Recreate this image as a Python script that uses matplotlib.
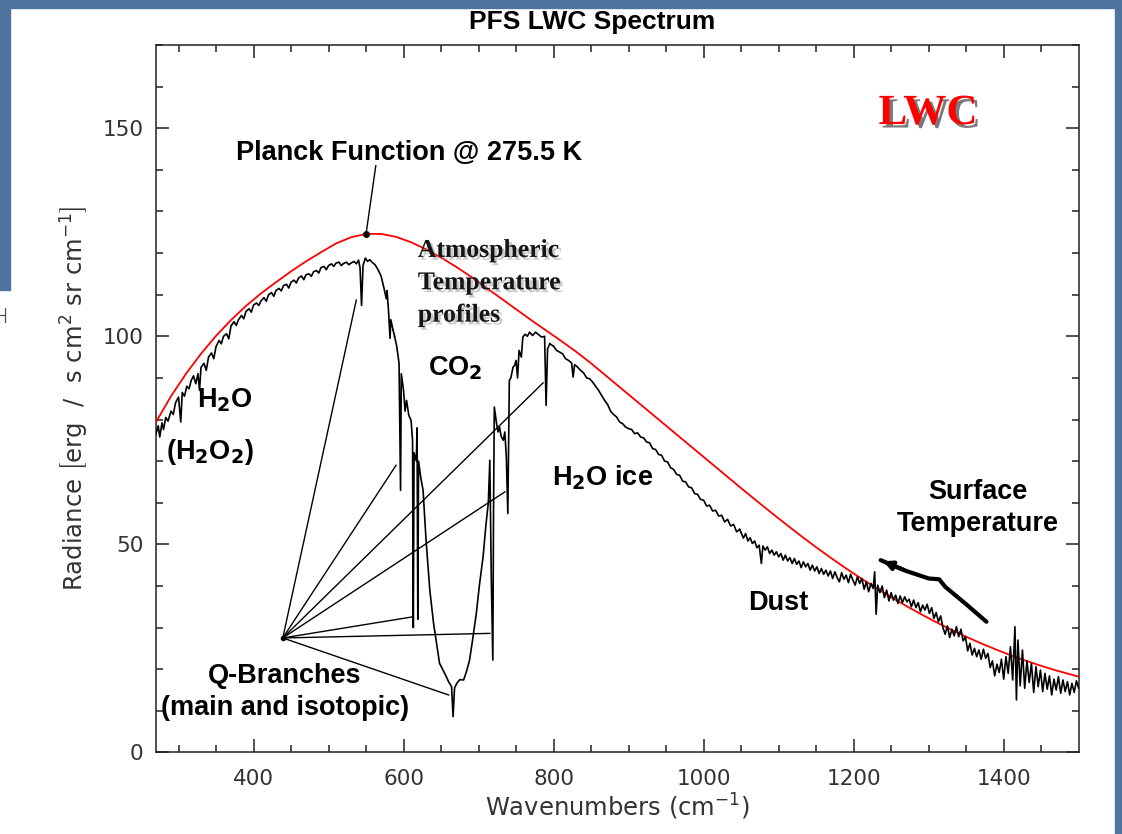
import matplotlib
matplotlib.use('Agg')
import matplotlib.pyplot as plt
import matplotlib.patheffects as pe
from matplotlib.patches import Rectangle
from matplotlib.lines import Line2D

# Planck curve @ 275.5 K
planck_wn = [270, 290, 310, 330, 350, 370, 390, 410, 430, 450, 470, 490, 510, 530, 550,
             570, 590, 610, 630, 650, 670, 690, 710, 730, 750, 770, 790, 810, 830, 850,
             870, 890, 910, 930, 950, 970, 990, 1010, 1030, 1050, 1070, 1090, 1110, 1130,
             1150, 1170, 1190, 1210, 1230, 1250, 1270, 1290, 1310, 1330, 1350, 1370, 1390,
             1410, 1430, 1450, 1470, 1490, 1500]
planck_rad = [79.4, 85.6, 91.0, 95.8, 100.1, 103.9, 107.3, 110.3, 113.0, 115.6, 118.0, 120.2,
              122.3, 123.8, 124.6, 124.6, 123.9, 122.6, 120.9, 118.9, 116.7, 114.3, 111.7,
              109.1, 106.5, 103.9, 101.4, 98.9, 96.3, 93.5, 90.5, 87.5, 84.5, 81.5, 78.5,
              75.5, 72.5, 69.5, 66.5, 63.5, 60.55, 57.65, 54.8, 52.0, 49.3, 46.7, 44.2, 41.8,
              39.5, 37.3, 35.2, 33.2, 31.3, 29.5, 27.8, 26.2, 24.7, 23.3, 22.0, 20.8, 19.7,
              18.7, 18.2]

# measured spectrum, split by band
h2o_band = [(270, 76.5), (273, 78.5), (275, 75.8), (278, 79.2), (280, 77.6), (283, 80.5),
            (286, 79.6), (290, 82.0), (293, 81.2), (296, 84.0), (300, 85.4), (303, 79.4),
            (305, 86.5), (308, 85.6), (311, 88.0), (314, 87.4), (317, 89.4), (320, 90.5),
            (323, 88.6), (326, 91.0), (328, 87.0), (330, 92.5), (334, 93.5), (337, 91.8),
            (340, 95.0), (344, 96.0), (347, 94.6), (350, 97.5), (354, 99.0), (357, 98.2),
            (360, 100.0), (364, 100.6), (367, 99.4), (370, 102.5), (374, 103.5), (377, 102.6),
            (380, 104.0), (384, 105.0), (387, 104.2), (390, 106.0), (394, 106.6), (397, 105.8),
            (400, 107.5), (404, 108.0), (407, 107.4), (410, 108.5), (414, 109.3), (417, 108.4),
            (420, 110.0), (424, 110.5), (427, 109.6), (430, 111.0), (434, 111.5), (437, 110.9),
            (440, 112.2), (444, 112.5), (447, 111.6), (450, 113.0), (454, 113.5), (457, 112.8),
            (460, 114.0), (464, 114.5), (467, 113.6), (470, 114.8), (474, 115.0), (477, 114.4),
            (480, 115.5), (484, 115.8), (487, 115.2), (490, 116.5), (494, 116.8), (497, 116.0),
            (500, 117.0), (504, 117.4), (507, 116.8), (510, 117.6), (514, 117.8), (517, 117.0),
            (520, 117.5), (524, 117.8), (527, 117.2), (530, 117.6), (534, 118.0), (537, 117.4),
            (540, 118.3), (542, 116.5), (544, 107.4), (546, 117.0), (549, 118.8), (552, 118.0),
            (555, 118.4), (558, 117.8), (562, 117.2), (566, 116.0), (570, 114.5), (574, 111.5),
            (577, 109.0), (578, 111.0), (580, 106.0), (582, 99.5), (583, 104.0), (586, 101.5)]

co2_band = [(588, 100.0), (591, 97.5), (594, 93.5), (596, 63.0), (597, 91.0), (600, 87.0),
            (602, 82.0), (604, 84.6), (607, 81.0), (610, 79.8), (612, 75.0), (613, 30.0),
            (614, 72.0), (617, 70.0), (618, 78.0), (619, 32.0), (620, 70.0), (623, 66.0),
            (626, 63.0), (630, 51.0), (635, 39.0), (640, 31.0), (645, 25.0), (648, 21.4),
            (652, 20.0), (657, 18.2), (660, 17.0), (664, 15.8), (666, 8.6), (668, 15.5),
            (671, 16.6), (675, 17.5), (680, 17.4), (684, 19.5), (688, 22.2), (692, 27.0),
            (697, 33.4), (701, 40.0), (706, 47.0), (710, 55.0), (713, 60.0), (715, 70.2),
            (717, 41.4), (719, 22.2), (720, 60.0), (721, 83.0), (724, 79.0), (726, 77.0),
            (728, 78.2), (730, 76.0), (733, 75.0), (735, 77.0), (737, 71.0), (739, 57.4),
            (741, 89.4), (743, 90.0), (746, 92.6), (748, 93.0), (750, 94.2), (752, 90.0),
            (754, 96.6), (757, 95.0), (759, 99.8), (762, 100.5), (765, 100.0), (768, 101.0),
            (772, 100.2), (776, 101.0), (780, 100.4), (784, 99.8), (788, 100.0), (790, 83.4),
            (792, 97.0), (795, 98.2)]

window = [(800, 97.6), (804, 96.6), (808, 96.2), (812, 95.8), (816, 94.6), (820, 94.2),
          (824, 93.6), (826, 90.2), (828, 93.2), (832, 92.6), (836, 91.8), (840, 91.2),
          (844, 90.0), (848, 89.8), (852, 89.0), (856, 88.0), (860, 87.0), (864, 85.8),
          (868, 84.6), (872, 83.6), (876, 82.0), (880, 81.2), (884, 80.6), (888, 79.4),
          (892, 79.0), (896, 78.2), (900, 77.8), (904, 77.6), (908, 76.6), (912, 76.8),
          (916, 75.8), (920, 75.6), (924, 74.6), (928, 74.4), (932, 73.0), (936, 72.8),
          (940, 71.6), (944, 71.4), (948, 70.0), (952, 69.8), (956, 68.4), (960, 68.0),
          (964, 66.8), (968, 66.6), (972, 65.2), (976, 65.0), (980, 63.8), (984, 63.6),
          (988, 62.2), (992, 62.0), (996, 60.8), (1000, 60.6), (1004, 59.2), (1008, 59.4),
          (1012, 58.0), (1016, 58.2), (1020, 56.8), (1024, 57.0), (1028, 55.4), (1032, 56.0),
          (1036, 54.4), (1040, 54.8), (1044, 53.0), (1048, 53.6)]

surface = [(1050, 52.8), (1053, 51.5), (1056, 52.6), (1059, 50.8), (1062, 51.6), (1065, 50.2),
           (1068, 50.8), (1071, 49.2), (1074, 49.8), (1077, 45.4), (1079, 49.6), (1082, 48.6),
           (1085, 49.4), (1088, 47.8), (1091, 48.6), (1094, 47.4), (1097, 48.2), (1100, 47.0),
           (1103, 47.8), (1106, 46.2), (1109, 47.4), (1112, 46.0), (1115, 46.8), (1118, 45.4),
           (1121, 46.6), (1124, 45.2), (1127, 46.0), (1130, 44.4), (1133, 45.8), (1136, 44.6),
           (1139, 45.4), (1142, 43.8), (1145, 45.0), (1148, 43.6), (1151, 44.6), (1154, 43.0),
           (1157, 44.2), (1160, 42.8), (1163, 43.8), (1166, 42.4), (1169, 43.6), (1172, 41.8),
           (1175, 43.4), (1178, 42.0), (1181, 41.0), (1184, 43.2), (1187, 41.6), (1190, 42.6),
           (1193, 40.8), (1196, 42.8), (1199, 41.4), (1202, 40.2), (1205, 42.2), (1208, 40.6),
           (1211, 41.8), (1214, 39.2), (1217, 41.0), (1220, 38.6), (1223, 40.6), (1226, 39.4),
           (1228, 43.4), (1230, 33.2), (1232, 40.2), (1235, 38.4), (1238, 40.0), (1241, 37.2),
           (1244, 39.0), (1247, 36.4), (1250, 38.4), (1253, 36.6), (1256, 37.8), (1259, 35.8),
           (1262, 37.6), (1265, 36.0), (1268, 37.4), (1271, 36.2), (1274, 36.8), (1277, 35.0),
           (1280, 36.6), (1283, 34.8), (1286, 36.0), (1289, 33.8), (1292, 35.4), (1295, 34.2),
           (1298, 35.6), (1301, 33.4), (1304, 34.8), (1307, 32.2), (1310, 33.6), (1313, 31.4),
           (1316, 32.8), (1319, 30.0), (1322, 28.4), (1325, 30.4), (1328, 27.6), (1331, 29.6),
           (1334, 28.0), (1337, 30.2), (1340, 27.8), (1343, 29.6), (1346, 26.8), (1349, 27.8),
           (1352, 24.4), (1355, 26.2), (1358, 23.4), (1361, 25.0), (1364, 23.0), (1367, 24.6),
           (1370, 22.4), (1373, 24.8), (1376, 22.6), (1379, 23.8), (1382, 20.4), (1385, 22.0),
           (1388, 18.4), (1391, 21.2), (1394, 19.2), (1397, 22.4), (1400, 17.6), (1403, 23.0),
           (1406, 19.0), (1409, 25.4), (1412, 17.4), (1415, 30.2), (1417, 12.6), (1419, 27.0),
           (1422, 16.0), (1425, 24.6), (1428, 15.4), (1431, 22.0), (1434, 16.8), (1437, 21.4),
           (1440, 14.4), (1443, 20.6), (1446, 15.8), (1449, 19.8), (1452, 14.6), (1455, 19.0),
           (1458, 15.2), (1461, 18.4), (1464, 13.8), (1467, 17.6), (1470, 15.0), (1473, 18.2),
           (1476, 14.2), (1479, 17.4), (1482, 14.6), (1485, 17.0), (1488, 13.8), (1491, 16.6),
           (1494, 14.4), (1497, 17.2), (1500, 15.4)]

# Q-branch pointer lines: hub and the features they point at
q_hub = (439, 27.5)
q_targets = [(537, 108.7), (590, 69.0), (786, 88.8), (735, 62.6), (613, 32.6), (715, 28.6),
             (660, 13.8)]

planck_dot = (550, 124.6)
planck_label_end = (563, 141.0)
surface_arrow = [(1377, 31.4), (1350, 35.6), (1322, 39.8), (1314, 41.6), (1300, 41.8),
                 (1270, 43.6), (1236, 46.2)]

sans = ['Liberation Sans', 'DejaVu Sans']
serif = ['Liberation Serif', 'DejaVu Serif']
axfont = ['DejaVu Sans']

fig = plt.figure(figsize=(11.22, 8.34), dpi=100)
fig.patch.set_facecolor('white')
blue = '#4f74a0'
fig.patches.append(Rectangle((0, 1 - 8 / 834), 1, 8 / 834, transform=fig.transFigure,
                             color=blue, zorder=0))
fig.patches.append(Rectangle((0, 1 - 290 / 834), 10 / 1122, 290 / 834, transform=fig.transFigure,
                             color=blue, zorder=0))
fig.patches.append(Rectangle((1 - 7 / 1122, 0), 7 / 1122, 1, transform=fig.transFigure,
                             color=blue, zorder=0))
fig.lines.append(Line2D([5 / 1122, 5 / 1122], [1 - 308 / 834, 1 - 322 / 834],
                        transform=fig.transFigure, color='#444444', lw=0.8))
fig.lines.append(Line2D([0, 5 / 1122], [1 - 315 / 834, 1 - 315 / 834],
                        transform=fig.transFigure, color='#444444', lw=0.8))

ax = fig.add_axes([156 / 1122, 1 - 752.4 / 834, (1078.7 - 156) / 1122, (752.4 - 45) / 834])

ax.plot(planck_wn, planck_rad, color='red', lw=1.3, zorder=3)
for seg in [h2o_band, co2_band, window, surface]:
    wn, rad = zip(*seg)
    ax.plot(wn, rad, color='black', lw=1.2, zorder=4)
# join the segments
ax.plot([h2o_band[-1][0], co2_band[0][0]], [h2o_band[-1][1], co2_band[0][1]], color='black', lw=1.2)
ax.plot([co2_band[-1][0], window[0][0]], [co2_band[-1][1], window[0][1]], color='black', lw=1.2)
ax.plot([window[-1][0], surface[0][0]], [window[-1][1], surface[0][1]], color='black', lw=1.2)

for tx, ty in q_targets:
    ax.plot([q_hub[0], tx], [q_hub[1], ty], color='black', lw=1.0, zorder=5)
ax.plot(*q_hub, 'o', color='black', ms=3, zorder=6)

ax.plot([planck_dot[0], planck_label_end[0]], [planck_dot[1], planck_label_end[1]],
        color='black', lw=1.0, zorder=5)
ax.plot(*planck_dot, 'o', color='black', ms=4, zorder=6)

sx, sy = zip(*surface_arrow)
ax.plot(sx, sy, color='black', lw=3.0, solid_capstyle='round', solid_joinstyle='round', zorder=5)
ax.annotate('', xy=surface_arrow[-1], xytext=surface_arrow[-2],
            arrowprops=dict(arrowstyle='-|>,head_length=0.5,head_width=0.25', color='black', lw=3))

ax.set_xlim(270, 1500)
ax.set_ylim(0, 170)
ax.set_xticks([400, 600, 800, 1000, 1200, 1400])
ax.set_xticks(range(300, 1500, 50), minor=True)
ax.set_yticks([0, 50, 100, 150])
ax.set_yticks(range(0, 171, 10), minor=True)
ax.tick_params(which='both', direction='in', top=True, right=True, width=1.1, colors='#222222',
               labelsize=15.5, labelcolor='#333333')
ax.tick_params(axis='x', pad=12)
ax.tick_params(axis='y', pad=9)
ax.tick_params(which='major', length=9.5)
ax.tick_params(which='minor', length=5)
for lab in ax.get_xticklabels() + ax.get_yticklabels():
    lab.set_family(axfont)
for sp in ax.spines.values():
    sp.set_linewidth(1.1)
    sp.set_color('#222222')

ax.set_xlabel('Wavenumbers (cm$^{-1}$)', fontsize=17.5, family=axfont, color='#333333', labelpad=2)
ax.set_ylabel('Radiance $\\left[\\mathrm{erg\\ \\ /\\ \\ s\\ cm^2\\ sr\\ cm^{-1}}\\right]$',
              fontsize=17.5, family=axfont, color='#333333', labelpad=8)

fig.text(592 / 1122, 1 - 22 / 834, 'PFS LWC Spectrum', ha='center', va='center',
         fontsize=19, fontweight='bold', family=sans)

bold = dict(fontsize=19.5, fontweight='bold', family=sans, ha='center', va='center', zorder=7)
ax.text(608, 144.1, 'Planck Function @ 275.5 K', **bold)
ax.text(669, 92.2, 'CO$_\\mathbf{2}$', **bold)
ax.text(362, 84.6, 'H$_\\mathbf{2}$O', **bold)
ax.text(342, 72.1, '(H$_\\mathbf{2}$O$_\\mathbf{2}$)', **bold)
ax.text(866, 65.9, 'H$_\\mathbf{2}$O ice', **bold)
ax.text(1366, 58.8, 'Surface\nTemperature', linespacing=1.3, **bold)
ax.text(1099, 35.9, 'Dust', **bold)
ax.text(442, 14.4, 'Q-Branches\n(main and isotopic)', linespacing=1.3, **bold)

soft = [pe.withSimplePatchShadow(offset=(2, -2), shadow_rgbFace='#888888', alpha=0.45)]
ax.text(619, 123.4, 'Atmospheric\nTemperature\nprofiles', fontsize=18.5, fontweight='bold',
        family=serif, color='#151515', ha='left', va='top', linespacing=1.52,
        path_effects=soft, zorder=7)
dark = [pe.withSimplePatchShadow(offset=(2.5, -2.5), shadow_rgbFace='#222222', alpha=0.6)]
ax.text(1299, 153.4, 'LWC', fontsize=31, fontweight='bold', family=serif, color='red',
        ha='center', va='center', path_effects=dark, zorder=7)

fig.savefig('out.png', dpi=100, facecolor=fig.get_facecolor())
